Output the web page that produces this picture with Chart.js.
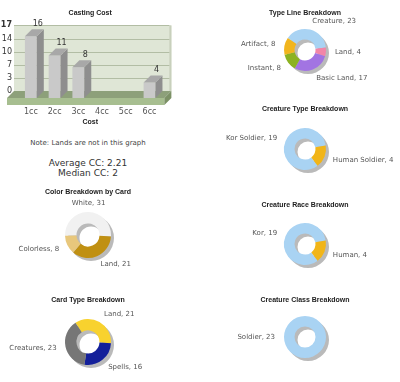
<!DOCTYPE html>
<html>
<head>
<meta charset="utf-8">
<script src="https://cdn.jsdelivr.net/npm/chart.js@4.4.1/dist/chart.umd.min.js"></script>
<style>
  body { margin: 0; background: #fff; width: 400px; height: 382px; position: relative; overflow: hidden; font-family: "DejaVu Sans", sans-serif; }
  canvas, .txt { position: absolute; }
  .txt { left: 0; width: 176px; text-align: center; color: #333; }
</style>
</head>
<body>
<canvas id="costChart" width="200" height="130" style="left:0;top:0"></canvas>
<div class="txt" style="top:139px;font-size:7px;line-height:8px;color:#444">Note: Lands are not in this graph</div>
<div class="txt" style="top:158px;font-size:9px;line-height:10px">Average CC: 2.21<br>Median CC: 2</div>
<canvas id="colorChart" width="176" height="95" style="left:0;top:182px"></canvas>
<canvas id="cardTypeChart" width="176" height="92" style="left:0;top:290px"></canvas>
<canvas id="typeLineChart" width="190" height="95" style="left:210px;top:0"></canvas>
<canvas id="creatureTypeChart" width="190" height="95" style="left:210px;top:97px"></canvas>
<canvas id="raceChart" width="190" height="95" style="left:210px;top:193px"></canvas>
<canvas id="classChart" width="190" height="94" style="left:210px;top:288px"></canvas>
<script>
// ---- data ----
const costLabels = ['1cc', '2cc', '3cc', '4cc', '5cc', '6cc'];
const costCounts = [16, 11, 8, 0, 0, 4];
const costTickValues = [0, 3.4, 6.8, 10.2, 13.6, 17];
const costTickLabels = ['0', '3', '7', '10', '14', '17'];

const colorLabels = ['White', 'Land', 'Colorless'];
const colorCounts = [31, 21, 8];
const cardTypeLabels = ['Land', 'Spells', 'Creatures'];
const cardTypeCounts = [21, 16, 23];
const typeLineLabels = ['Creature', 'Land', 'Basic Land', 'Instant', 'Artifact'];
const typeLineCounts = [23, 4, 17, 8, 8];
const creatureTypeLabels = ['Kor Soldier', 'Human Soldier'];
const creatureTypeCounts = [19, 4];
const raceLabels = ['Kor', 'Human'];
const raceCounts = [19, 4];
const classLabels = ['Soldier'];
const classCounts = [23];

const TITLE_FONT = { family: 'Liberation Sans', size: 7, weight: 'bold', lineHeight: 1.2 };
const LABEL_FONT = '7px "DejaVu Sans"';
const depth = 7;

// ---- casting cost bar chart (fake 3d) ----
const wallPlugin = {
    id: 'wall',
    beforeDatasetsDraw(chart) {
        const { ctx, chartArea: a, scales: { y } } = chart;
        const wl = a.left - 5, wr = a.right + 10;
        const wt = y.getPixelForValue(17) - depth, wb = a.bottom - depth;
        ctx.save();
        ctx.fillStyle = '#dfe6d6';
        ctx.fillRect(wl, wt, wr - wl, wb - wt);
        ctx.fillStyle = '#c8d0bc';
        ctx.fillRect(wr - 2, wt, 2, wb - wt);
        ctx.strokeStyle = '#b2bda4';
        ctx.lineWidth = 1;
        y.ticks.forEach(t => {
            if (t.value === 0) return;
            const py = Math.round(y.getPixelForValue(t.value) - depth) + 0.5;
            ctx.beginPath(); ctx.moveTo(wl, py); ctx.lineTo(wr - 2, py); ctx.stroke();
        });
        // floor top
        ctx.fillStyle = '#8da07a';
        ctx.beginPath();
        ctx.moveTo(wl - depth, a.bottom); ctx.lineTo(wl, wb); ctx.lineTo(wr, wb); ctx.lineTo(wr - depth, a.bottom);
        ctx.closePath(); ctx.fill();
        // floor front
        ctx.fillStyle = '#a7be90';
        ctx.fillRect(wl - depth, a.bottom, wr - wl, depth);
        // floor side
        ctx.fillStyle = '#7c9166';
        ctx.beginPath();
        ctx.moveTo(wr - depth, a.bottom); ctx.lineTo(wr, wb); ctx.lineTo(wr, wb + depth); ctx.lineTo(wr - depth, a.bottom + depth);
        ctx.closePath(); ctx.fill();
        ctx.restore();
    }
};

const barSidesPlugin = {
    id: 'barSides',
    afterDatasetsDraw(chart) {
        const ctx = chart.ctx;
        const meta = chart.getDatasetMeta(0);
        ctx.save();
        meta.data.forEach((bar, i) => {
            if (!costCounts[i]) return;
            const { x, y, base, width } = bar;
            const x1 = x - width / 2, x2 = x + width / 2;
            ctx.fillStyle = '#8e8e8e';
            ctx.beginPath();
            ctx.moveTo(x2, y); ctx.lineTo(x2 + depth, y - depth); ctx.lineTo(x2 + depth, base - depth); ctx.lineTo(x2, base);
            ctx.closePath(); ctx.fill();
            ctx.fillStyle = '#a8a8a8';
            ctx.beginPath();
            ctx.moveTo(x1, y); ctx.lineTo(x1 + depth, y - depth); ctx.lineTo(x2 + depth, y - depth); ctx.lineTo(x2, y);
            ctx.closePath(); ctx.fill();
            ctx.fillStyle = '#333';
            ctx.font = '8px "DejaVu Sans"';
            ctx.textAlign = 'center';
            ctx.textBaseline = 'middle';
            ctx.fillText(String(costCounts[i]), x + depth, y - 12.5);
        });
        ctx.restore();
    }
};

new Chart(document.getElementById('costChart'), {
    type: 'bar',
    data: {
        labels: costLabels,
        datasets: [{ data: costCounts, backgroundColor: '#c9c9c9', barPercentage: 0.5, categoryPercentage: 1 }]
    },
    options: {
        responsive: false, animation: false, events: [],
        layout: { padding: { left: 0, right: 38.6, top: 0, bottom: 3.8 } },
        plugins: {
            legend: { display: false },
            tooltip: { enabled: false },
            title: { display: true, text: 'Casting Cost', fullSize: false, color: '#222', font: TITLE_FONT, padding: { top: 8.8, bottom: 15.2 } }
        },
        scales: {
            x: {
                grid: { display: false, drawTicks: false }, border: { display: false },
                ticks: { color: '#555', font: { family: 'DejaVu Sans', size: 8 }, padding: 9, maxRotation: 0 },
                title: { display: true, text: 'Cost', color: '#222', font: TITLE_FONT, padding: 0 },
                afterFit(s) { s.height = 28.2; }
            },
            y: {
                min: 0, max: 17,
                grid: { display: false, drawTicks: false }, border: { display: false },
                afterBuildTicks(s) { s.ticks = costTickValues.map(v => ({ value: v })); },
                ticks: {
                    padding: 7, labelOffset: -depth, color: '#333',
                    font: c => ({ family: 'DejaVu Sans', size: 8, weight: c.index === costTickValues.length - 1 ? 'bold' : 'normal' }),
                    callback: (v, i) => costTickLabels[i]
                },
                afterFit(s) { s.width = 19; }
            }
        }
    },
    plugins: [wallPlugin, barSidesPlugin]
});

// ---- doughnuts ----
const shadowPlugin = {
    id: 'ringShadow',
    beforeDatasetsDraw(chart) {
        const arc = chart.getDatasetMeta(0).data[0];
        if (!arc) return;
        const { ctx } = chart;
        ctx.save();
        ctx.fillStyle = '#bababa';
        ctx.beginPath();
        ctx.arc(arc.x + 3, arc.y + 3, arc.outerRadius, 0, Math.PI * 2);
        ctx.arc(arc.x + 3, arc.y + 3, arc.innerRadius, 0, Math.PI * 2, true);
        ctx.fill('evenodd');
        ctx.restore();
    }
};

const outsideLabels = {
    id: 'outsideLabels',
    afterDatasetsDraw(chart) {
        const { ctx } = chart;
        const ds = chart.data.datasets[0];
        ctx.save();
        ctx.font = LABEL_FONT;
        ctx.fillStyle = '#555';
        ctx.textBaseline = 'middle';
        chart.getDatasetMeta(0).data.forEach((arc, i) => {
            const mid = (arc.startAngle + arc.endAngle) / 2;
            const r = arc.outerRadius + 9;
            const c = Math.cos(mid);
            ctx.textAlign = c > 0.1 ? 'left' : (c < -0.1 ? 'right' : 'center');
            ctx.fillText(chart.data.labels[i] + ', ' + ds.data[i], arc.x + c * r, arc.y + Math.sin(mid) * r);
        });
        ctx.restore();
    }
};

function makeDonut(id, title, labels, counts, colors, rotation, titleY, centerY, radius) {
    const canvas = document.getElementById(id);
    const padBottom = titleY + 4.2 + canvas.height - 2 * centerY;
    return new Chart(canvas, {
        type: 'doughnut',
        data: { labels: labels, datasets: [{ data: counts, backgroundColor: colors, borderWidth: 0 }] },
        options: {
            responsive: false, animation: false, events: [],
            rotation: rotation, radius: radius, cutout: '50%',
            layout: { padding: { bottom: padBottom } },
            plugins: {
                legend: { display: false },
                tooltip: { enabled: false },
                title: { display: true, text: title, color: '#222', font: TITLE_FONT, padding: { top: titleY - 4.2, bottom: 0 } }
            }
        },
        plugins: [shadowPlugin, outsideLabels]
    });
}

makeDonut('colorChart', 'Color Breakdown by Card', colorLabels, colorCounts,
    ['#f1f1f1', '#c09012', '#e8c77c'], -92, 10, 53, 23);
makeDonut('cardTypeChart', 'Card Type Breakdown', cardTypeLabels, cardTypeCounts,
    ['#f8d22e', '#14209a', '#767676'], -33, 10, 52, 23);
makeDonut('typeLineChart', 'Type Line Breakdown', typeLineLabels, typeLineCounts,
    ['#a9d3f3', '#f286a8', '#a274e2', '#8cb222', '#f1b51e'], -55, 13, 50, 21);
makeDonut('creatureTypeChart', 'Creature Type Breakdown', creatureTypeLabels, creatureTypeCounts,
    ['#a9d3f3', '#f1b519'], 143, 12, 52, 21);
makeDonut('raceChart', 'Creature Race Breakdown', raceLabels, raceCounts,
    ['#a9d3f3', '#f1b519'], 143, 12, 51, 21);
makeDonut('classChart', 'Creature Class Breakdown', classLabels, classCounts,
    ['#a9d3f3'], 90, 12, 49, 21);
</script>
</body>
</html>
